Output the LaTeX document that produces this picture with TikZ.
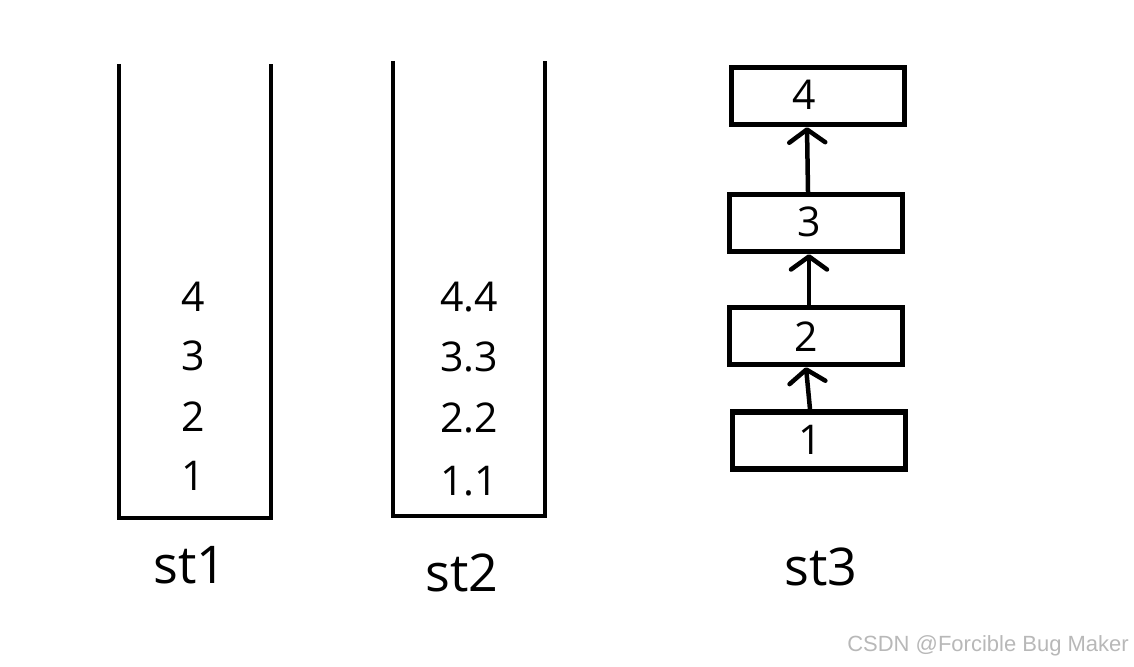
\documentclass[tikz,border=0pt]{standalone}
\usepackage{fontspec}
\setmainfont{Open Sans}
\newfontfamily\wmfont{Liberation Sans}
\usetikzlibrary{arrows.meta}
\begin{document}
\begin{tikzpicture}[x=1pt,y=-1pt,
  wall/.style={line width=4.5pt,line join=miter},
  cell/.style={font=\fontsize{41}{41}\selectfont,inner sep=0pt,anchor=center},
  lbl/.style={font=\fontsize{52}{52}\selectfont,inner sep=0pt,anchor=center},
  box/.style={draw,line width=5.5pt,minimum width=173pt,minimum height=57pt,inner sep=0pt},
  link/.style={line width=4.5pt,line cap=round,-{Straight Barb[length=13pt,width=36pt,line width=4.5pt,round]}}]
\useasboundingbox (0,0) rectangle (1134,666);
% st1
\draw[wall] (119,64) -- (119,518) -- (271,518) -- (271,64);
\node[cell] (a4) at (193,297) {4};
\node[cell] (a3) at (193,356) {3};
\node[cell] (a2) at (193,417) {2};
\node[cell] (a1) at (193,476) {1};
\node[lbl] (l1) at (190,565) {st1};
% st2
\draw[wall] (393,61) -- (393,516) -- (545,516) -- (545,61);
\node[cell] (b4) at (469,297) {4.4};
\node[cell] (b3) at (469,357) {3.3};
\node[cell] (b2) at (469,418) {2.2};
\node[cell] (b1) at (469,481) {1.1};
\node[lbl] (l2) at (462,573) {st2};
% st3
\node[box] (c4) at (818,96) {};
\node[box] (c3) at (816,223) {};
\node[box] (c2) at (816,336) {};
\node[box] (c1) at (819,440.5) {};
\node[cell] (t4) at (804,95) {4};
\node[cell] (t3) at (809,222) {3};
\node[cell] (t2) at (806,337) {2};
\node[cell] (t1) at (810,440) {1};
\draw[link] (c3.north -| 808,0) -- (c4.south -| 807,0);
\draw[link] (c2.north -| 809,0) -- (c3.south -| 809,0);
\draw[link] (c1.north -| 810,0) -- (c2.south -| 806,0);
\node[lbl] (l3) at (821,567) {st3};
% watermark
\node[font=\wmfont\fontsize{22}{22}\selectfont,text=black!28,anchor=east,inner sep=0pt] (wm) at (1129,646) {CSDN @Forcible Bug Maker};
\end{tikzpicture}
\end{document}
